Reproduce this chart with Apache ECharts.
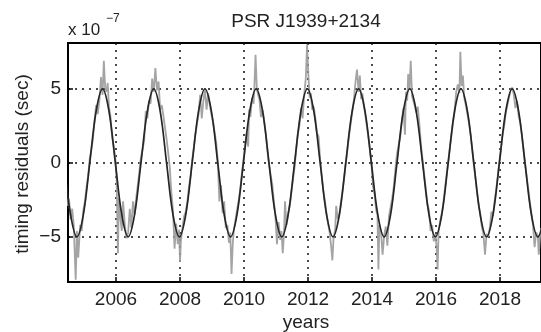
<!DOCTYPE html>
<html>
<head>
<meta charset="utf-8">
<script src="https://cdn.jsdelivr.net/npm/echarts@6/dist/echarts.min.js"></script>
<style>
  html, body { margin: 0; padding: 0; background: #fff; }
  #chart { width: 541px; height: 332px; }
</style>
</head>
<body>
<div id="chart"></div>
<script>
// Timing residuals of PSR J1939+2134, in units of 1e-7 s: [year, residual]
const residuals = [
  [2004.38,-0.5],[2004.48,-2.9],[2004.53,-2.4],[2004.58,-3.8],[2004.63,-3.1],[2004.68,-4.2],[2004.74,-7.9],[2004.78,-4.6],[2004.82,-6.4],[2004.88,-4.2],[2004.93,-4.6],[2004.98,-3.2],[2005.03,-2.6],[2005.08,-1.6],[2005.13,-0.9],[2005.18,0.3],[2005.23,0.9],[2005.28,1.6],[2005.33,2.9],[2005.38,3.9],[2005.43,3.3],[2005.48,4.2],[2005.53,5.8],[2005.58,4.6],[2005.62,6.9],[2005.66,5.1],[2005.70,4.8],[2005.74,5.4],[2005.78,3.8],[2005.83,3.1],[2005.88,1.7],[2005.93,1.1],
  [2005.98,0.3],[2006.02,-1.2],[2006.06,-6.1],[2006.09,-2.4],[2006.13,-3.6],[2006.18,-4.6],[2006.22,-2.6],[2006.28,-4.3],[2006.33,-5.1],[2006.38,-4.7],[2006.43,-3.1],[2006.48,-4.4],[2006.53,-2.6],[2006.58,-3.5],[2006.63,-2.4],[2006.68,-1.5],[2006.73,-0.6],[2006.78,0.4],[2006.83,0.9],[2006.88,1.5],[2006.93,3.5],[2006.98,3.0],[2007.03,4.2],[2007.08,4.0],[2007.13,5.7],[2007.18,4.8],[2007.23,6.4],[2007.28,4.9],[2007.33,5.5],[2007.38,3.6],[2007.43,3.9],[2007.48,3.2],[2007.53,2.4],
  [2007.58,1.6],[2007.63,0.7],[2007.68,-0.3],[2007.73,-2.0],[2007.78,-3.2],[2007.83,-5.8],[2007.88,-4.1],[2007.93,-5.5],[2007.97,-4.5],[2008.00,-6.7],[2008.03,-5.2],[2008.08,-4.3],[2008.13,-3.6],[2008.18,-3.3],[2008.23,-2.6],[2008.28,-1.6],[2008.33,-0.9],[2008.38,0.2],[2008.43,1.0],[2008.48,1.9],[2008.53,2.6],[2008.58,3.3],[2008.63,4.6],[2008.68,3.0],[2008.73,4.2],[2008.78,4.9],[2008.83,3.6],[2008.88,4.7],[2008.93,3.9],[2008.98,3.3],[2009.03,2.8],[2009.08,2.1],[2009.13,1.4],
  [2009.18,0.1],[2009.23,-2.6],[2009.28,-1.5],[2009.33,-3.4],[2009.38,-2.6],[2009.43,-4.4],[2009.48,-4.2],[2009.53,-5.4],[2009.57,-4.7],[2009.61,-7.5],[2009.65,-5.4],[2009.69,-4.4],[2009.73,-3.9],[2009.78,-3.2],[2009.83,-2.6],[2009.88,-1.8],[2009.93,-0.8],[2009.98,0.1],[2010.03,1.1],[2010.08,2.0],[2010.13,1.1],[2010.16,3.6],[2010.20,3.1],[2010.25,4.4],[2010.30,4.0],[2010.33,5.5],[2010.36,7.3],[2010.40,5.0],[2010.44,4.6],[2010.48,4.3],[2010.53,3.1],[2010.58,3.6],[2010.63,2.8],[2010.68,2.0],[2010.73,0.9],
  [2010.78,-0.1],[2010.83,-0.8],[2010.88,-1.4],[2010.93,-2.5],[2010.98,-3.6],[2011.03,-5.5],[2011.08,-4.0],[2011.13,-5.2],[2011.17,-4.6],[2011.21,-6.1],[2011.25,-4.8],[2011.28,-2.6],[2011.33,-4.2],[2011.38,-3.4],[2011.43,-2.9],[2011.48,-2.0],[2011.53,-1.1],[2011.58,-0.3],[2011.63,0.9],[2011.68,1.9],[2011.73,2.5],[2011.78,3.7],[2011.83,3.0],[2011.88,4.6],[2011.93,5.7],[2011.97,8.0],[2012.01,6.0],[2012.05,4.4],[2012.09,4.7],[2012.13,3.6],[2012.18,3.8],[2012.23,3.0],[2012.28,2.0],[2012.33,1.8],
  [2012.38,0.2],[2012.43,-0.9],[2012.48,-1.9],[2012.53,-2.6],[2012.58,-3.5],[2012.63,-4.1],[2012.68,-4.8],[2012.73,-5.8],[2012.76,-6.6],[2012.80,-5.0],[2012.85,-4.5],[2012.88,-2.9],[2012.93,-3.8],[2012.98,-3.5],[2013.03,-2.6],[2013.08,-1.8],[2013.13,-1.0],[2013.18,0.0],[2013.23,0.9],[2013.28,1.8],[2013.33,2.6],[2013.38,3.4],[2013.43,4.2],[2013.48,5.4],[2013.53,6.3],[2013.58,4.8],[2013.62,5.9],[2013.66,4.3],[2013.70,4.7],[2013.74,3.9],[2013.78,3.4],[2013.83,2.6],[2013.88,1.8],[2013.93,1.0],
  [2013.98,0.0],[2014.03,-1.6],[2014.08,-2.1],[2014.13,-3.2],[2014.17,-3.5],[2014.20,-7.2],[2014.23,-4.2],[2014.28,-4.6],[2014.33,-6.2],[2014.38,-4.9],[2014.43,-4.3],[2014.48,-5.6],[2014.53,-3.6],[2014.58,-3.0],[2014.63,-2.4],[2014.68,-1.6],[2014.73,-0.4],[2014.78,0.6],[2014.83,1.2],[2014.88,1.7],[2014.93,2.8],[2014.98,3.7],[2015.03,1.9],[2015.06,4.8],[2015.10,4.2],[2015.13,6.0],[2015.17,5.0],[2015.21,6.9],[2015.25,4.5],[2015.29,4.6],[2015.33,3.9],[2015.38,3.4],[2015.43,3.8],[2015.48,2.6],[2015.53,1.2],
  [2015.58,0.2],[2015.63,-0.8],[2015.68,-1.7],[2015.73,-2.8],[2015.78,-3.2],[2015.83,-4.6],[2015.88,-4.2],[2015.93,-5.3],[2015.98,-4.8],[2016.02,-5.8],[2016.05,-7.2],[2016.08,-4.6],[2016.13,-3.9],[2016.18,-3.4],[2016.23,-2.7],[2016.28,-1.7],[2016.33,-0.8],[2016.38,0.1],[2016.43,1.0],[2016.48,1.8],[2016.53,2.7],[2016.58,3.5],[2016.63,4.8],[2016.68,5.3],[2016.73,4.7],[2016.76,7.5],[2016.80,5.2],[2016.84,5.9],[2016.88,4.4],[2016.93,3.9],[2016.98,3.3],[2017.03,2.7],[2017.08,1.9],[2017.13,0.9],
  [2017.18,-0.1],[2017.23,-1.0],[2017.28,-1.9],[2017.33,-2.8],[2017.38,-3.4],[2017.43,-4.3],[2017.48,-4.8],[2017.53,-6.2],[2017.58,-4.8],[2017.63,-5.0],[2017.68,-4.4],[2017.73,-3.3],[2017.78,-3.6],[2017.83,-2.6],[2017.88,-1.8],[2017.93,-0.9],[2017.98,0.1],[2018.03,1.0],[2018.08,1.9],[2018.13,2.5],[2018.18,3.4],[2018.23,3.9],[2018.28,4.4],[2018.33,4.9],[2018.38,5.1],[2018.43,4.6],[2018.48,3.7],[2018.53,4.2],[2018.58,3.2],[2018.63,2.7],[2018.68,1.9],[2018.73,1.0],
  [2018.78,0.0],[2018.83,-0.9],[2018.88,-1.7],[2018.93,-2.6],[2018.98,-3.4],[2019.03,-4.2],[2019.08,-5.7],[2019.13,-4.7],[2019.18,-4.9],[2019.21,-6.2],[2019.25,-5.0],[2019.28,-4.4],[2019.33,-5.6],[2019.38,-3.6]
];

// Fitted periodic signal through the residuals, same units: [year, value]
const fitCurve = [
  [2004.38,0],[2004.58,-3.5],[2004.78,-5],[2004.98,-3.5],[2005.18,0],[2005.38,3.5],[2005.58,5],[2005.78,3.5],
  [2005.98,0],[2006.18,-3.5],[2006.38,-5],[2006.58,-3.5],[2006.78,0],[2006.98,3.5],[2007.18,5],[2007.38,3.5],
  [2007.58,0],[2007.78,-3.5],[2007.98,-5],[2008.18,-3.5],[2008.38,0],[2008.58,3.5],[2008.78,5],[2008.98,3.5],
  [2009.18,0],[2009.38,-3.5],[2009.58,-5],[2009.78,-3.5],[2009.98,0],[2010.18,3.5],[2010.38,5],[2010.58,3.5],
  [2010.78,0],[2010.98,-3.5],[2011.18,-5],[2011.38,-3.5],[2011.58,0],[2011.78,3.5],[2011.98,5],[2012.18,3.5],
  [2012.38,0],[2012.58,-3.5],[2012.78,-5],[2012.98,-3.5],[2013.18,0],[2013.38,3.5],[2013.58,5],[2013.78,3.5],
  [2013.98,0],[2014.18,-3.5],[2014.38,-5],[2014.58,-3.5],[2014.78,0],[2014.98,3.5],[2015.18,5],[2015.38,3.5],
  [2015.58,0],[2015.78,-3.5],[2015.98,-5],[2016.18,-3.5],[2016.38,0],[2016.58,3.5],[2016.78,5],[2016.98,3.5],
  [2017.18,0],[2017.38,-3.5],[2017.58,-5],[2017.78,-3.5],[2017.98,0],[2018.18,3.5],[2018.38,5],[2018.58,3.5],
  [2018.78,0],[2018.98,-3.5],[2019.18,-5],[2019.38,-3.5],[2019.58,0]
];

const yearTicks = [2006, 2008, 2010, 2012, 2014, 2016, 2018];
const residualTicks = [-5, 0, 5];

const FONT = 'Liberation Sans, Arial, sans-serif';
const TEXT = '#222';
const gridDash = { color: '#111', width: 1.5, type: [2, 5] };
const frameLine = { show: true, onZero: false, lineStyle: { color: '#000', width: 2 } };

const chart = echarts.init(document.getElementById('chart'), null, { renderer: 'canvas' });

chart.setOption({
  animation: false,
  backgroundColor: '#fff',
  grid: {
    left: 68, top: 43, right: -1, bottom: 50,
    show: true, borderColor: '#000', borderWidth: 2, backgroundColor: 'transparent'
  },
  xAxis: {
    type: 'value',
    min: 2004.5, max: 2019.28,
    axisLine: frameLine,
    axisTick: { show: true, inside: true, length: 5, lineStyle: { color: '#000', width: 1.5 }, customValues: yearTicks },
    axisLabel: {
      customValues: yearTicks, color: TEXT, fontFamily: FONT, fontSize: 19, margin: 8,
      formatter: v => String(v)
    },
    splitLine: { show: true, lineStyle: gridDash }
  },
  yAxis: {
    type: 'value',
    min: -8.05, max: 8.1,
    axisLine: frameLine,
    axisTick: { show: true, inside: true, length: 5, lineStyle: { color: '#000', width: 1.5 }, customValues: residualTicks },
    axisLabel: {
      customValues: residualTicks, color: TEXT, fontFamily: FONT, fontSize: 19, margin: 7,
      formatter: v => String(v).replace('-', '\u2212')
    },
    splitLine: { show: true, lineStyle: gridDash }
  },
  series: [
    {
      name: 'residuals', type: 'line', data: residuals,
      showSymbol: false, clip: true,
      lineStyle: { color: '#9a9a9a', width: 1.8, opacity: 0.9 },
      z: 2
    },
    {
      name: 'fit', type: 'line', data: fitCurve, smooth: 0.35,
      showSymbol: false, clip: true,
      lineStyle: { color: '#262626', width: 1.7 },
      z: 3
    }
  ],
  graphic: [
    {
      type: 'text', x: 306, y: 22,
      style: { text: 'PSR J1939+2134', font: '19px ' + FONT, fill: TEXT, align: 'center', verticalAlign: 'middle' }
    },
    {
      type: 'text', x: 68, y: 30,
      style: { text: 'x 10', font: '17px ' + FONT, fill: TEXT, align: 'left', verticalAlign: 'middle' }
    },
    {
      type: 'text', x: 106, y: 19,
      style: { text: '\u22127', font: '12px ' + FONT, fill: TEXT, align: 'left', verticalAlign: 'middle' }
    },
    {
      type: 'text', x: 23, y: 164, rotation: Math.PI / 2,
      style: { text: 'timing residuals (sec)', font: '19px ' + FONT, fill: TEXT, align: 'center', verticalAlign: 'middle' }
    },
    {
      type: 'text', x: 306, y: 323,
      style: { text: 'years', font: '19px ' + FONT, fill: TEXT, align: 'center', verticalAlign: 'middle' }
    }
  ]
});
</script>
</body>
</html>
